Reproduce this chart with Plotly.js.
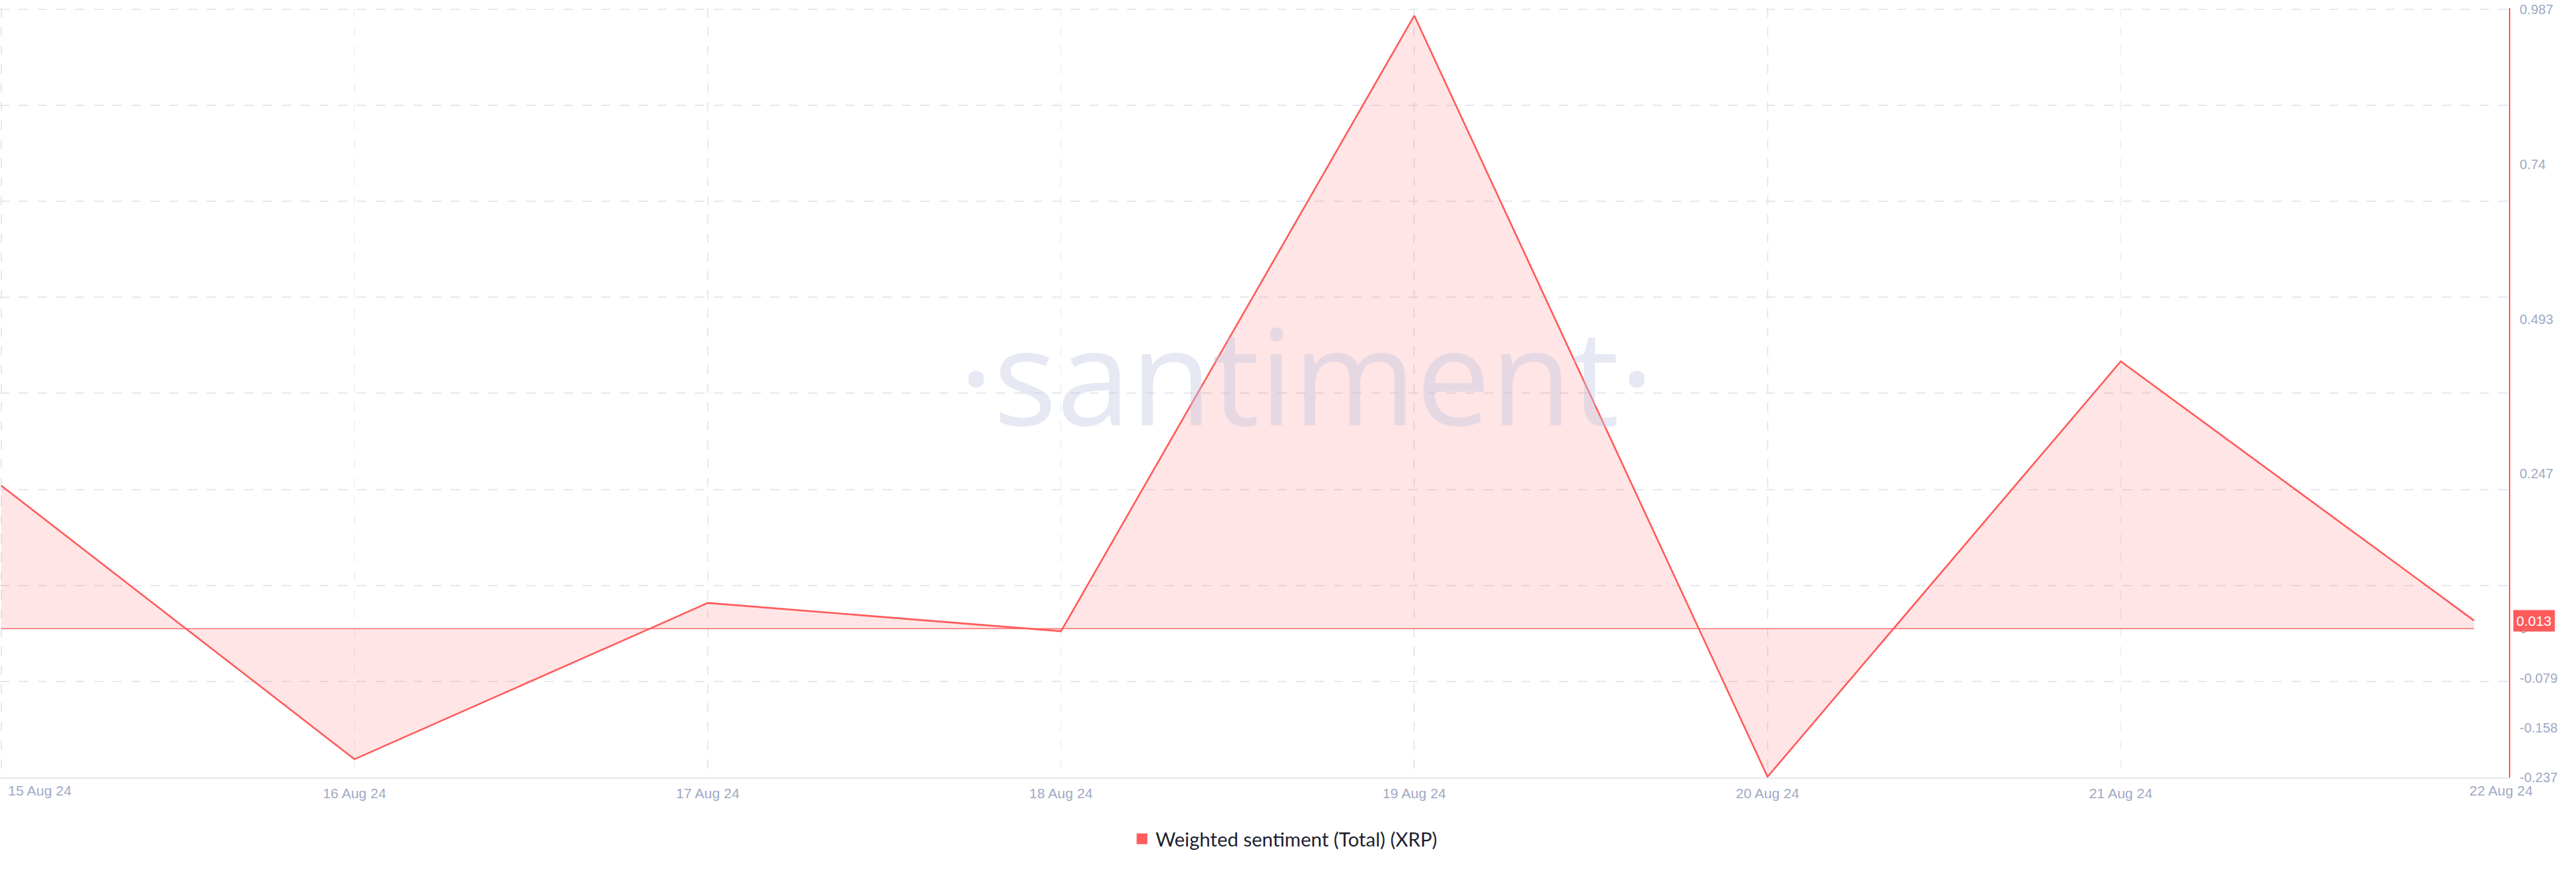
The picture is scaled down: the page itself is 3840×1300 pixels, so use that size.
<!DOCTYPE html>
<html>
<head>
<meta charset="utf-8">
<script src="https://cdn.plot.ly/plotly-3.0.1.min.js"></script>
<style>html,body{margin:0;padding:0;background:#fff;}#chart{width:3840px;height:1300px;}</style>
</head>
<body>
<div id="chart"></div>
<script>
// ---- data ----
const dates = ['2024-08-15', '2024-08-16', '2024-08-17', '2024-08-18', '2024-08-19', '2024-08-20', '2024-08-21', '2024-08-22'];
const dateLabels = ['15 Aug 24', '16 Aug 24', '17 Aug 24', '18 Aug 24', '19 Aug 24', '20 Aug 24', '21 Aug 24', '22 Aug 24'];
const sentiment = [0.228, -0.208, 0.041, -0.004, 0.977, -0.236, 0.426, 0.013];
const yTicks = [0.987, 0.74, 0.493, 0.247, 0, -0.079, -0.158, -0.237];
const yTickText = ['0.987', '0.74', '0.493', '0.247', '0', '-0.079', '-0.158', '-0.237'];
const seriesName = 'Weighted sentiment (Total) (XRP)';
const watermark = '·santiment·';

// ---- style ----
const RED = '#ff5b5b';
const GRID = '#e6e8f1';
const TICK = '#9ea9c4';
const yMin = Math.min(...yTicks), yMax = Math.max(...yTicks);
const yTop = yMax + 0.0021;
const DAY = 86400000;
const t0 = new Date(dates[0] + 'T00:00:00Z').getTime();
const tN = new Date(dates[dates.length - 1] + 'T00:00:00Z').getTime();
const fmt = t => new Date(t).toISOString().slice(0, 19).replace('T', ' ');
const xStart = fmt(t0 - 5 * 60000);
const xEnd = fmt(tN + 0.0987 * DAY);

const traces = [
  {
    type: 'scatter', mode: 'lines', x: dates, y: sentiment,
    line: {color: RED, width: 2.6}, fill: 'tozeroy', fillcolor: 'rgba(255,91,91,0.16)',
    xaxis: 'x', yaxis: 'y', showlegend: false, hoverinfo: 'x+y'
  },
  {
    type: 'scatter', mode: 'markers', x: [null], y: [null], name: seriesName,
    marker: {symbol: 'square', size: 18, color: RED}, xaxis: 'x', yaxis: 'y2', showlegend: true
  }
];

const layout = {
  width: 3840, height: 1300,
  margin: {l: 0, r: 100, t: 12, b: 141, pad: 0},
  paper_bgcolor: '#ffffff', plot_bgcolor: '#ffffff',
  font: {family: 'Liberation Sans, Arial, sans-serif', color: TICK, size: 20},
  showlegend: true,
  legend: {
    orientation: 'h', x: 0.512, xanchor: 'center', y: -0.08, yanchor: 'middle',
    font: {family: 'Lato, Noto Sans, sans-serif', size: 29, color: '#1d1f30'},
    itemsizing: 'trace', bgcolor: 'rgba(0,0,0,0)'
  },
  xaxis: {
    type: 'date', range: [xStart, xEnd],
    tickvals: dates.slice(0, 7), ticktext: [''].concat(dateLabels.slice(1, 7)),
    showgrid: true, gridcolor: GRID, gridwidth: 1.5, griddash: '14px,14px',
    showline: true, linecolor: '#e3e6ef', linewidth: 2,
    zeroline: false, ticks: '', ticklabelstandoff: 4,
    tickfont: {size: 21, color: TICK, family: 'Liberation Sans, Arial, sans-serif'},
    fixedrange: true
  },
  yaxis: {
    range: [yMin, yTop], tick0: yMin, dtick: (yMax - yMin) / 8,
    showgrid: true, gridcolor: GRID, gridwidth: 2, griddash: '14px,14px',
    showticklabels: false, zeroline: false, showline: false, ticks: '', fixedrange: true
  },
  yaxis2: {
    overlaying: 'y', side: 'right', range: [yMin, yTop],
    tickmode: 'array', tickvals: yTicks, ticktext: yTickText,
    showgrid: false, zeroline: false, showline: true, linecolor: RED, linewidth: 2,
    ticks: '', ticklabelstandoff: 10,
    tickfont: {size: 20, color: TICK, family: 'Liberation Sans, Arial, sans-serif'},
    fixedrange: true
  },
  shapes: [
    {type: 'line', xref: 'x', yref: 'y', x0: dates[0], x1: dates[dates.length - 1], y0: 0, y1: 0,
     line: {color: RED, width: 1.6}, opacity: 0.85, layer: 'above'}
  ],
  annotations: [
    {xref: 'paper', yref: 'paper', x: 0.5206, y: 0.525, xanchor: 'center', yanchor: 'middle',
     text: watermark, showarrow: false,
     font: {family: 'Open Sans, Noto Sans, sans-serif', size: 198, color: 'rgba(192,197,226,0.40)'}},
    {xref: 'x', yref: 'paper', x: dates[0], y: 0, xanchor: 'left', yanchor: 'top', xshift: 8, yshift: -6,
     text: dateLabels[0], showarrow: false, font: {size: 21, color: TICK}},
    {xref: 'x', yref: 'paper', x: dates[dates.length - 1], y: 0, xanchor: 'center', yanchor: 'top', xshift: 40, yshift: -6,
     text: dateLabels[dateLabels.length - 1], showarrow: false, font: {size: 21, color: TICK}},
    {xref: 'paper', yref: 'y', x: 1, y: sentiment[sentiment.length - 1], xanchor: 'left', yanchor: 'middle', xshift: 6,
     text: sentiment[sentiment.length - 1].toFixed(3), showarrow: false, bgcolor: RED, borderpad: 4,
     font: {size: 21, color: '#ffffff', family: 'Liberation Sans, Arial, sans-serif'}}
  ]
};

Plotly.newPlot('chart', traces, layout, {displayModeBar: false, staticPlot: true});
</script>
</body>
</html>
